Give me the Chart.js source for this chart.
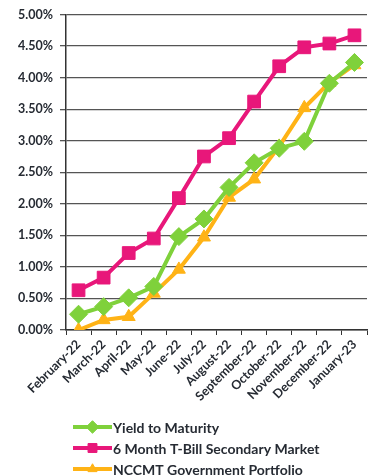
<!DOCTYPE html>
<html><head><meta charset="utf-8">
<script src="https://cdn.jsdelivr.net/npm/chart.js@4"></script>
<style>html,body{margin:0;padding:0;background:#fff;}#wrap{width:377px;height:475px;}</style>
</head><body><div id="wrap"><canvas id="c" width="377" height="475"></canvas></div>
<script>
const categories = ["February-22","March-22","April-22","May-22","June-22","July-22","August-22","September-22","October-22","November-22","December-22","January-23"];
const yieldToMaturity = [0.25,0.37,0.51,0.69,1.48,1.76,2.26,2.65,2.88,2.99,3.91,4.24];
const tBill6Month = [0.63,0.83,1.22,1.45,2.09,2.75,3.04,3.62,4.18,4.48,4.54,4.67];
const nccmtGov = [0.00,0.16,0.21,0.58,0.96,1.47,2.10,2.39,2.91,3.52,3.92,4.20];
const seriesNames = ["Yield to Maturity","6 Month T-Bill Secondary Market","NCCMT Government Portfolio"];

const txt = '#262b33';
const fontFam = 'Lato, "Open Sans", sans-serif';

const legendPlugin = {
  id: 'vlegend',
  afterDraw(chart) {
    const ctx = chart.ctx;
    const x0 = 73, y0 = 427, dy = 21, len = 39;
    chart.data.datasets.forEach((ds, i) => {
      const y = y0 + i * dy;
      ctx.save();
      ctx.strokeStyle = ds.borderColor;
      ctx.lineWidth = 4;
      ctx.beginPath(); ctx.moveTo(x0, y); ctx.lineTo(x0 + len, y); ctx.stroke();
      ctx.fillStyle = ds.backgroundColor;
      ctx.strokeStyle = ds.borderColor;
      ctx.lineWidth = 1;
      Chart.helpers.drawPoint(ctx, {pointStyle: ds.pointStyle, radius: ds.pointRadius * 0.7, borderWidth: 1}, x0 + len / 2, y);
      ctx.fillStyle = txt;
      ctx.font = 'bold 14px ' + fontFam;
      ctx.textBaseline = 'middle';
      ctx.fillText(ds.label, x0 + len + 1, y + 1);
      ctx.restore();
    });
  }
};

const mk = (label, data, color, style, r) => ({
  label, data, borderColor: color, backgroundColor: color, borderWidth: 4,
  pointStyle: style, pointRadius: r, pointHoverRadius: r, pointBorderWidth: 1,
  tension: 0, fill: false
});

new Chart(document.getElementById('c'), {
  type: 'line',
  data: {
    labels: categories,
    datasets: [
      mk(seriesNames[0], yieldToMaturity, '#7fd13b', 'rectRot', 9),
      mk(seriesNames[1], tBill6Month, '#e8177a', 'rect', 9),
      mk(seriesNames[2], nccmtGov, '#ffb316', 'triangle', 7.5)
    ]
  },
  options: {
    responsive: false,
    animation: false,
    events: [],
    layout: { padding: { top: 8, right: 0, bottom: 68, left: 0 } },
    plugins: { legend: { display: false }, tooltip: { enabled: false } },
    scales: {
      x: {
        offset: true,
        grid: { display: true, drawOnChartArea: false, drawTicks: true, tickLength: 5, color: '#333', offset: true },
        border: { display: true, color: '#333', width: 1.5 },
        ticks: { color: txt, font: { family: fontFam, size: 12.5, weight: 'bold' }, maxRotation: 45, minRotation: 45, autoSkip: false, padding: 2 },
        afterFit(s) { s.height = 77; }
      },
      y: {
        min: 0, max: 5,
        grid: { color: '#555', lineWidth: 1.3, drawTicks: true, tickLength: 6 },
        border: { display: true, color: '#333', width: 1.5 },
        ticks: { stepSize: 0.5, color: txt, padding: 7, font: { family: fontFam, size: 12.5, weight: 'bold' }, callback: v => v.toFixed(2) + '%' },
        afterFit(s) { s.width = 66; }
      }
    }
  },
  plugins: [legendPlugin]
});
</script></body></html>
